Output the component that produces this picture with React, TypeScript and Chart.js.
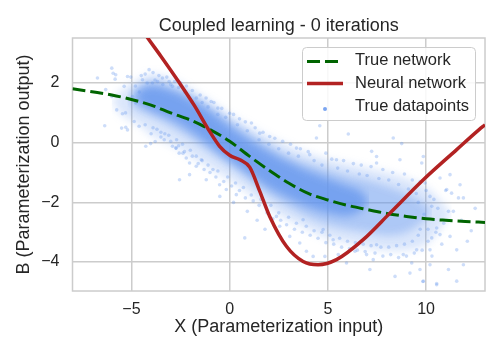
import React, { useEffect, useRef } from "react";
import { Chart, registerables } from "chart.js";

// soften the edges of the cloud outline fills (registered before the filler so it runs first)
const cloudBlurOn = {
  id: "cloudBlurOn",
  beforeDatasetsDraw(chart: any) {
    chart.ctx.save();
    chart.ctx.filter = "blur(4px)";
  },
};
Chart.register(cloudBlurOn);
Chart.register(...registerables);

// ---- axis ranges and ticks ----
const xRange = [-8, 13];
const yRange = [-4.97, 3.51];
const xTickValues = [-5, 0, 5, 10];
const yTickValues = [-4, -2, 0, 2];

// ---- "True network" (green dashed) ----
const trueNetX = [-8, -6, -5, -4, -3, -2, -1, 0, 1, 2, 3, 4, 5, 6, 7, 8, 9, 10, 11, 12, 13];
const trueNetY = [1.81, 1.6, 1.45, 1.26, 1.0, 0.76, 0.44, 0.05, -0.45, -0.92, -1.35, -1.7, -1.92, -2.1, -2.24, -2.37, -2.47, -2.55, -2.6, -2.64, -2.67];

// ---- "Neural network" (red) ----
const nnX = [-6, -5, -4.18, -3.5, -2.55, -1.8, -1.02, -0.51, 0, 0.55, 1.02, 1.53, 2.04, 2.89, 3.74, 4.5, 5.44, 6.8, 8.16, 9.86, 11.56, 12.7, 13];
const nnY = [5.2, 4.3, 3.52, 2.9, 2.0, 1.25, 0.38, -0.12, -0.42, -0.58, -0.82, -1.62, -2.47, -3.47, -3.98, -4.09, -3.92, -3.25, -2.36, -1.24, -0.23, 0.44, 0.6];

// ---- dense cloud of true datapoints: outlines ----
const cloudOuterX = [-6, -5.5, -4.5, -4, -3, -2, -1, 0, 1, 2, 3, 4, 5, 6, 7, 8, 9, 10, 10.8, 11.3];
const cloudOuterHigh = [1.4, 1.75, 2.15, 2.3, 2.15, 1.8, 1.4, 0.95, 0.55, 0.2, -0.1, -0.35, -0.55, -0.7, -0.85, -1.0, -1.2, -1.5, -2.0, -2.4];
const cloudOuterLow = [1.4, 0.95, 0.55, 0.25, -0.05, -0.45, -0.85, -1.25, -1.7, -2.2, -2.6, -2.9, -3.2, -3.35, -3.5, -3.6, -3.6, -3.4, -2.8, -2.4];

const cloudMidX = [-5.2, -4.8, -4, -3, -2, -1, 0, 1, 2, 3, 4, 5, 6, 7, 8, 9, 9.8, 10.3];
const cloudMidHigh = [1.5, 1.8, 2.05, 1.9, 1.6, 1.2, 0.75, 0.3, -0.1, -0.45, -0.7, -0.9, -1.1, -1.25, -1.45, -1.7, -2.0, -2.3];
const cloudMidLow = [1.5, 1.15, 0.9, 0.55, 0.15, -0.3, -0.75, -1.25, -1.75, -2.15, -2.5, -2.75, -2.9, -3.0, -3.1, -3.0, -2.65, -2.3];

const cloudCoreX = [-4.9, -4.5, -4, -3, -2, -1, 0, 1, 2, 3, 4, 5, 6, 6.6, 7.1];
const cloudCoreHigh = [1.55, 1.78, 1.9, 1.75, 1.45, 1.05, 0.55, 0.1, -0.3, -0.65, -0.95, -1.2, -1.45, -1.6, -1.95];
const cloudCoreLow = [1.55, 1.3, 1.1, 0.8, 0.4, -0.1, -0.6, -1.05, -1.5, -1.85, -2.15, -2.35, -2.45, -2.3, -1.95];

// ---- individual (sparser) datapoints ----
const pointsX = [
  -6.73, -6.0, -5.93, -5.8, -5.83, -5.2, -5.03, -6.36, -6.0, -6.31, -5.75, -5.46, -5.3, -5.5, -5.2, -5.29, -5.37, -4.95, -4.78, -4.86,
  -4.61, -4.1, -4.44, -3.42, -4.27, -4.02, -3.79, -3.5, -3.33, -2.91, -2.57, -2.74, -3.93, -3.67, -3.08, -2.91,
  -0.94, -0.6, 0, 1.11, 1.53, 2.04, -2.72, -2.38, -2.55, -2.04, -1.7, -1.19, -0.51, -0.85, -0.17, 0.34, -1.44, -2.04, -2.21,
  4.59, 4.42, 6.04, 7.23, 7.48, 3.4, 4.08, 5.44, 2.55, 3.06, 3.57, 3.91, 4.25, 4.85, 5.53, 5.95, 6.38, 6.97, 7.31, 7.48, 2.38, 3.74, 4.76, 5.27,
  8.67, 7.48, 9.86, 11.22, 11.73, 11.05, 11.3, 11.9, 11.65, 11.14, 11.39, 10.54, 10.71, 11.22, 11.56, 11.9, 11.14, 10.54, 11.56, 9.86,
  9.69, 9.18, 8.42, 7.14, 10.2, 10.29, 10.37, 10.29, 10.2, 10.71, 9.95, 9.27, 8.84, 9.52,
  8.33, 8.76, 9.78, 0.77, 10.2, 10.54, 9.84,
  -4.8, -4.5, -4.3, -3.9, -3.6, -3.2, -2.8, -2.5, -2.2, -1.9, -1.5, -1.2, -0.8, -0.4, 0.2, 0.5, 0.8, 1.3, 1.7, 2.3, 2.7, 3.1, 3.6, 4.0, 4.9,
  5.2, 5.8, 6.3, 6.7, 7.2, 7.8, 8.3, 8.9, 9.3, 9.7,
  -4.0, -3.7, -3.3, -3.0, -2.6, -2.3, -1.9, -1.6, -1.3, -1.0, -0.7, -0.3, 0.1, 0.5, 0.8, 1.2, 1.5, 1.9, 2.2, 2.6, 2.9, 3.3, 3.7, 4.1, 4.5,
  4.9, 5.3, 5.7, 6.1, 6.5, 6.9, 7.4, 7.8, 8.2, 8.6, 9.0, 9.4, 9.8, 10.1,
  9.6, 9.9, 10.1, 10.4, 10.6, 10.8, 10.3, 10.9, 11.0, 9.7, 10.0, 10.5, 12.3, 12.1, 11.8, 12.5,
  -0.5, 0.2, 0.9, 1.4, 1.8,
  -4.6, -4.2, -3.8, -3.4, -3.0, -2.6, -2.3, -1.7, -1.4, -1.1, -0.6, -0.2, 0.4, 0.9, 1.5, 2.0, 2.5, 3.0, 3.5, 4.3, 4.7, 5.5, 6.0, 6.6, 7.0,
  7.6, 8.1, 8.6, 9.1, 9.5,
  -4.3, -3.9, -3.5, -3.1, -2.7, -2.4, -2.0, -1.7, -1.4, -1.1, -0.6, -0.1, 0.3, 0.7, 1.1, 1.6, 2.1, 2.5, 3.0, 3.4, 3.9, 4.3, 4.7, 5.1, 5.6,
  6.0, 6.4, 6.8, 7.2, 7.7, 8.1, 8.5, 8.9, 9.3, 9.6
];
const pointsY = [
  2.17, 2.5, 2.33, 2.28, 2.13, 2.22, 2.2, 0.57, 1.55, 1.78, 1.1, 0.97, 1.0, 0.49, 0.43, 0.52, 1.89, 1.55, 1.33, 0.71,
  0.55, 2.45, 2.11, 2.17, -0.12, -0.03, 0.04, 0.19, 0.1, -0.12, -0.35, -0.18, 2.0, 2.05, 2.05, 1.89,
  1.38, 1.16, 0.99, 0.66, 0.32, 0.21, -0.18, -0.35, -1.24, -1.07, -0.79, -1.24, -1.41, -0.9, -1.57, -1.74, -0.57, -0.68, -0.51,
  0.57, 0.16, 0.29, -0.29, -0.68, -0.18, -0.4, -0.57, -2.8, -3.14, -3.36, -3.64, -3.81, -3.81, -3.75, -4.03, -3.64, -3.75, -3.92, -3.42, -2.47, -2.58, -2.91, -3.25,
  -0.57, -0.46, -0.46, -1.07, -1.41, -1.57, -1.69, -1.85, -1.85, -2.3, -2.3, -2.86, -3.08, -3.14, -3.59, -4.09, -4.25, -4.76, -4.64, -4.64,
  -4.25, -4.37, -4.48, -4.25, -3.59, -3.19, -2.58, -2.13, -1.8, -1.18, -1.35, -4.03, -3.75, -3.59,
  0.16, -0.03, -0.68, -3.19, -4.09, -4.72, -4.65,
  1.9, 2.25, 2.3, 2.35, 2.25, 2.2, 2.05, 2.0, 1.9, 1.75, 1.6, 1.5, 1.35, 1.15, 0.95, 0.8, 0.7, 0.5, 0.35, 0.15, 0.05, -0.05, -0.2, -0.3, -0.35,
  -0.55, -0.6, -0.7, -0.75, -0.8, -0.9, -1.0, -1.05, -1.25, -1.3,
  0.3, 0.45, 0.3, 0.05, -0.1, -0.3, -0.45, -0.7, -0.9, -1.0, -1.15, -1.3, -1.45, -1.6, -1.85, -1.95, -2.1, -2.35, -2.55, -2.6, -2.75, -2.9, -3.0, -3.1, -3.2,
  -3.35, -3.4, -3.5, -3.55, -3.6, -3.65, -3.7, -3.8, -3.75, -3.85, -3.8, -3.7, -3.6, -3.3,
  -2.0, -2.4, -2.9, -1.9, -2.2, -3.4, -3.8, -2.7, -1.6, -2.9, -1.6, -3.0, -2.95, -3.3, -2.6, -2.2,
  -1.8, -2.0, -2.3, -2.6, -2.9,
  1.7, 2.0, 2.1, 1.95, 1.95, 1.85, 1.7, 1.5, 1.35, 1.2, 0.95, 0.85, 0.6, 0.4, 0.1, -0.05, -0.2, -0.35, -0.45, -0.6, -0.75, -0.85, -0.95, -1.05, -1.1,
  -1.2, -1.25, -1.4, -1.55, -1.7,
  0.6, 0.5, 0.35, 0.25, 0.1, -0.05, -0.25, -0.45, -0.6, -0.75, -0.95, -1.15, -1.35, -1.5, -1.75, -1.9, -2.1, -2.35, -2.5, -2.7, -2.8, -2.95, -3.0, -3.1, -3.2,
  -3.3, -3.35, -3.4, -3.45, -3.5, -3.5, -3.45, -3.4, -3.3, -3.1
];

const legendLabels = ["True network", "Neural network", "True datapoints"];

const BLUE = "100,149,237";
const GREEN = "#006400";
const RED = "#b22222";
const TEXT = "#262626";
const GRID = "#cccccc";
const FONT = "'Liberation Sans', Arial, Helvetica, sans-serif";
const DASH = [13, 5];

const zip = (xs: number[], ys: number[]) => xs.map((x, i) => ({ x, y: ys[i] }));
const fmt = (v: number) => (v < 0 ? "\u2212" + Math.abs(v) : String(v));

function bandPair(xs: number[], hi: number[], lo: number[], alpha: number, idxLow: number) {
  const common = {
    type: "line" as const,
    pointRadius: 0,
    borderWidth: 0,
    tension: 0.4,
    order: 10,
    backgroundColor: `rgba(${BLUE},${alpha})`,
    borderColor: "rgba(0,0,0,0)",
  };
  return [
    { ...common, label: "_band", data: zip(xs, hi), fill: idxLow },
    { ...common, label: "_band", data: zip(xs, lo), fill: false },
  ];
}

// ends the blur once the filler has drawn the cloud fills
const cloudBlurOff = {
  id: "cloudBlurOff",
  beforeDatasetsDraw(chart: any) {
    chart.ctx.restore();
  },
};

const titlePlugin = {
  id: "titleText",
  afterDraw(chart: any) {
    const { ctx, chartArea } = chart;
    ctx.save();
    ctx.font = `18px ${FONT}`;
    ctx.fillStyle = TEXT;
    ctx.textAlign = "center";
    ctx.textBaseline = "middle";
    ctx.fillText("Coupled learning - 0 iterations", (chartArea.left + chartArea.right) / 2, 26);
    ctx.restore();
  },
};

const framePlugin = {
  id: "frame",
  beforeDatasetsDraw(chart: any) {
    const { ctx, chartArea: a } = chart;
    ctx.save();
    ctx.strokeStyle = GRID;
    ctx.lineWidth = 1.5;
    ctx.strokeRect(a.left, a.top, a.right - a.left, a.bottom - a.top);
    ctx.restore();
  },
};

const legendPlugin = {
  id: "boxLegend",
  afterDraw(chart: any) {
    const { ctx } = chart;
    const bx = 302.5, by = 47.5, bw = 173, bh = 73, r = 4;
    ctx.save();
    ctx.beginPath();
    ctx.moveTo(bx + r, by);
    ctx.arcTo(bx + bw, by, bx + bw, by + bh, r);
    ctx.arcTo(bx + bw, by + bh, bx, by + bh, r);
    ctx.arcTo(bx, by + bh, bx, by, r);
    ctx.arcTo(bx, by, bx + bw, by, r);
    ctx.closePath();
    ctx.fillStyle = "rgba(255,255,255,0.85)";
    ctx.fill();
    ctx.strokeStyle = GRID;
    ctx.lineWidth = 1;
    ctx.stroke();

    const rows = [60.5, 83.3, 106];
    ctx.beginPath();
    ctx.setLineDash(DASH);
    ctx.strokeStyle = GREEN;
    ctx.lineWidth = 3;
    ctx.moveTo(307, 61.5);
    ctx.lineTo(343, 61.5);
    ctx.stroke();
    ctx.setLineDash([]);
    ctx.beginPath();
    ctx.strokeStyle = RED;
    ctx.lineWidth = 3.5;
    ctx.moveTo(307, 83.5);
    ctx.lineTo(343, 83.5);
    ctx.stroke();
    ctx.beginPath();
    ctx.fillStyle = `rgba(${BLUE},0.85)`;
    ctx.arc(325, 109, 2, 0, Math.PI * 2);
    ctx.fill();

    ctx.font = `16.5px ${FONT}`;
    ctx.fillStyle = TEXT;
    ctx.textAlign = "left";
    ctx.textBaseline = "middle";
    legendLabels.forEach((t, i) => ctx.fillText(t, 355, rows[i]));
    ctx.restore();
  },
};

export default function App() {
  const ref = useRef<HTMLCanvasElement>(null);

  useEffect(() => {
    if (!ref.current) return;
    const datasets: any[] = [
      {
        type: "line",
        label: legendLabels[1],
        data: zip(nnX, nnY),
        borderColor: RED,
        borderWidth: 3.5,
        pointRadius: 0,
        cubicInterpolationMode: "monotone",
        fill: false,
        order: 0,
      },
      {
        type: "line",
        label: legendLabels[0],
        data: zip(trueNetX, trueNetY),
        borderColor: GREEN,
        borderWidth: 3,
        borderDash: DASH,
        pointRadius: 0,
        cubicInterpolationMode: "monotone",
        fill: false,
        order: 1,
      },
      {
        type: "line",
        label: legendLabels[2],
        data: zip(pointsX, pointsY),
        showLine: false,
        pointRadius: 1.8,
        pointBorderWidth: 0,
        pointBackgroundColor: `rgba(${BLUE},0.32)`,
        pointBorderColor: `rgba(${BLUE},0.32)`,
        order: 2,
      },
      ...bandPair(cloudOuterX, cloudOuterHigh, cloudOuterLow, 0.24, 4),
      ...bandPair(cloudMidX, cloudMidHigh, cloudMidLow, 0.38, 6),
      ...bandPair(cloudCoreX, cloudCoreHigh, cloudCoreLow, 0.75, 8),
    ];

    const chart = new Chart(ref.current, {
      type: "line",
      data: { datasets },
      options: {
        responsive: false,
        animation: false,
        events: [],
        layout: { padding: { left: 0, right: 19, top: 38, bottom: 0 } },
        plugins: {
          legend: { display: false },
          tooltip: { enabled: false },
          title: { display: false },
          filler: { drawTime: "beforeDatasetsDraw" },
        },
        scales: {
          x: {
            type: "linear",
            min: xRange[0],
            max: xRange[1],
            afterBuildTicks: (s: any) => {
              s.ticks = xTickValues.map((v) => ({ value: v }));
            },
            afterFit: (s: any) => {
              s.height = 69;
            },
            ticks: {
              padding: 9.4,
              color: TEXT,
              font: { family: FONT, size: 16 },
              callback: (v: any) => fmt(Number(v)),
            },
            grid: { color: GRID, lineWidth: 1.5, drawTicks: false },
            border: { display: false },
            title: {
              display: true,
              text: "X (Parameterization input)",
              color: TEXT,
              font: { family: FONT, size: 18 },
              padding: { top: 0, bottom: 21.7 },
            },
          },
          y: {
            type: "linear",
            min: yRange[0],
            max: yRange[1],
            afterBuildTicks: (s: any) => {
              s.ticks = yTickValues.map((v) => ({ value: v }));
            },
            afterFit: (s: any) => {
              s.width = 72.5;
            },
            ticks: {
              padding: 13,
              color: TEXT,
              font: { family: FONT, size: 16 },
              callback: (v: any) => fmt(Number(v)),
            },
            grid: { color: GRID, lineWidth: 1.5, drawTicks: false },
            border: { display: false },
            title: {
              display: true,
              text: "B (Parameterization output)",
              color: TEXT,
              font: { family: FONT, size: 18 },
              padding: { top: 13.7, bottom: 0 },
            },
          },
        },
      } as any,
      plugins: [cloudBlurOff, framePlugin, titlePlugin, legendPlugin],
    });
    return () => chart.destroy();
  }, []);

  return (
    <div style={{ position: "absolute", left: 0, top: 0, width: 504, height: 360, background: "#fff" }}>
      <canvas ref={ref} width={504} height={360} style={{ display: "block", width: 504, height: 360 }} />
    </div>
  );
}
